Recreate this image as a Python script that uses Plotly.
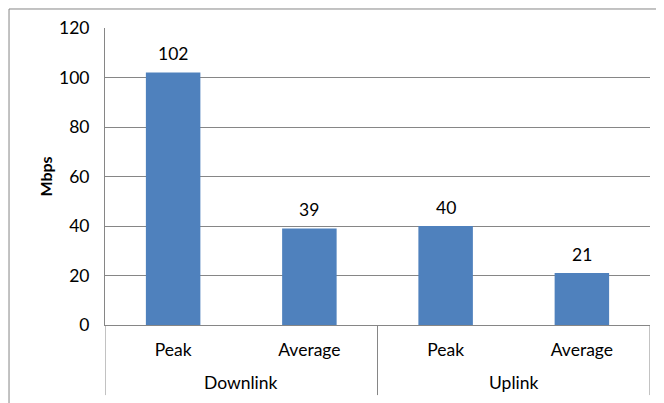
import plotly.graph_objects as go

groups = ["Downlink", "Uplink"]
categories = ["Peak", "Average", "Peak", "Average"]
values = [102, 39, 40, 21]
y_ticks = [0, 20, 40, 60, 80, 100, 120]

font = "Lato, Carlito, 'Open Sans', sans-serif"
fs = 17.5
grey = "#868686"

xpos = list(range(len(values)))
per_group = len(categories) // len(groups)

fig = go.Figure(go.Bar(
    x=xpos,
    y=values,
    marker=dict(color="#4F81BD", line=dict(width=0)),
    width=0.4,
    cliponaxis=False,
))

annotations = []
for xi, v in zip(xpos, values):
    annotations.append(dict(x=xi, y=v, xref="x", yref="y", text=str(v),
                            showarrow=False, yshift=19,
                            font=dict(family=font, size=fs, color="#000000")))
for gi, g in enumerate(groups):
    center = gi * per_group + (per_group - 1) / 2
    annotations.append(dict(x=center, y=-0.195, xref="x", yref="paper", text=g,
                            showarrow=False, yanchor="middle",
                            font=dict(family=font, size=fs, color="#000000")))
annotations.append(dict(x=-0.11, y=0.5, xref="paper", yref="paper", text="<b>Mbps</b>",
                        showarrow=False, textangle=-90, xanchor="center", yanchor="middle",
                        font=dict(family=font, size=fs - 1.5, color="#000000")))

shapes = [dict(type="rect", xref="paper", yref="paper",
               x0=-0.1761, x1=1.2, y0=-0.5, y1=1.064,
               line=dict(color=grey, width=1), layer="below")]
for gi in range(len(groups) + 1):
    xd = gi * per_group - 0.5
    shapes.append(dict(type="line", xref="x", yref="paper", x0=xd, x1=xd,
                       y0=0, y1=-0.236, line=dict(color=grey, width=1)))

fig.update_layout(
    width=656, height=395,
    margin=dict(l=97, r=14, t=20, b=78),
    paper_bgcolor="white", plot_bgcolor="white",
    showlegend=False,
    font=dict(family=font, size=fs, color="#000000"),
    xaxis=dict(
        range=[-0.5, len(values) - 0.5],
        tickvals=xpos, ticktext=categories,
        showgrid=False, showline=True, linecolor=grey, linewidth=1,
        zeroline=False, ticks="", automargin=False,
        ticklabelstandoff=9,
        tickfont=dict(family=font, size=fs),
    ),
    yaxis=dict(
        range=[0, 120], tickvals=y_ticks, ticktext=[str(t) for t in y_ticks],
        showgrid=True, gridcolor=grey, gridwidth=1,
        showline=True, linecolor=grey, linewidth=1,
        zeroline=False, ticks="", automargin=False,
        ticklabelstandoff=11,
        tickfont=dict(family=font, size=fs),
    ),
    annotations=annotations,
    shapes=shapes,
)

fig.write_html("out.html")
